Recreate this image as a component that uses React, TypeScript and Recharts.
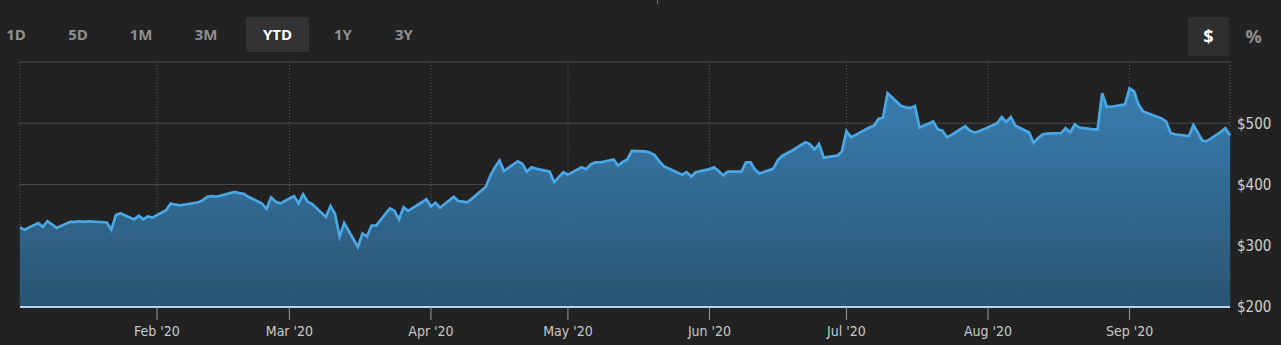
import React from 'react';
import { AreaChart, Area, XAxis, YAxis, CartesianGrid } from 'recharts';

const dates = [
  '2020-01-02','2020-01-03','2020-01-06','2020-01-07','2020-01-08','2020-01-09','2020-01-10','2020-01-13','2020-01-14','2020-01-15','2020-01-16','2020-01-17','2020-01-21','2020-01-22','2020-01-23','2020-01-24','2020-01-27','2020-01-28','2020-01-29','2020-01-30','2020-01-31',
  '2020-02-03','2020-02-04','2020-02-05','2020-02-06','2020-02-07','2020-02-10','2020-02-11','2020-02-12','2020-02-13','2020-02-14','2020-02-18','2020-02-19','2020-02-20','2020-02-21','2020-02-24','2020-02-25','2020-02-26','2020-02-27','2020-02-28',
  '2020-03-02','2020-03-03','2020-03-04','2020-03-05','2020-03-06','2020-03-09','2020-03-10','2020-03-11','2020-03-12','2020-03-13','2020-03-16','2020-03-17','2020-03-18','2020-03-19','2020-03-20','2020-03-23','2020-03-24','2020-03-25','2020-03-26','2020-03-27','2020-03-30','2020-03-31',
  '2020-04-01','2020-04-02','2020-04-03','2020-04-06','2020-04-07','2020-04-08','2020-04-09','2020-04-13','2020-04-14','2020-04-15','2020-04-16','2020-04-17','2020-04-20','2020-04-21','2020-04-22','2020-04-23','2020-04-24','2020-04-27','2020-04-28','2020-04-29','2020-04-30',
  '2020-05-01','2020-05-04','2020-05-05','2020-05-06','2020-05-07','2020-05-08','2020-05-11','2020-05-12','2020-05-13','2020-05-14','2020-05-15','2020-05-18','2020-05-19','2020-05-20','2020-05-21','2020-05-22','2020-05-26','2020-05-27','2020-05-28','2020-05-29',
  '2020-06-01','2020-06-02','2020-06-03','2020-06-04','2020-06-05','2020-06-08','2020-06-09','2020-06-10','2020-06-11','2020-06-12','2020-06-15','2020-06-16','2020-06-17','2020-06-18','2020-06-19','2020-06-22','2020-06-23','2020-06-24','2020-06-25','2020-06-26','2020-06-29','2020-06-30',
  '2020-07-01','2020-07-02','2020-07-06','2020-07-07','2020-07-08','2020-07-09','2020-07-10','2020-07-13','2020-07-14','2020-07-15','2020-07-16','2020-07-17','2020-07-20','2020-07-21','2020-07-22','2020-07-23','2020-07-24','2020-07-27','2020-07-28','2020-07-29','2020-07-30','2020-07-31',
  '2020-08-03','2020-08-04','2020-08-05','2020-08-06','2020-08-07','2020-08-10','2020-08-11','2020-08-12','2020-08-13','2020-08-14','2020-08-17','2020-08-18','2020-08-19','2020-08-20','2020-08-21','2020-08-24','2020-08-25','2020-08-26','2020-08-27','2020-08-28','2020-08-31',
  '2020-09-01','2020-09-02','2020-09-03','2020-09-04','2020-09-08','2020-09-09','2020-09-10','2020-09-11','2020-09-14','2020-09-15','2020-09-16','2020-09-17','2020-09-18','2020-09-21','2020-09-22','2020-09-23',
];

const prices = [
  330, 326, 337, 331, 340, 335, 329, 339, 339, 340, 339, 340, 338, 326, 350, 353, 343, 349, 343, 348, 346,
  358, 369, 367, 366, 367, 371, 374, 380, 381, 380, 388, 386, 385, 380, 369, 360, 379, 372, 369,
  381, 369, 384, 372, 368, 347, 365, 352, 315, 337, 298, 320, 315, 333, 333, 361, 357, 343, 363, 357, 371, 376,
  364, 370, 362, 380, 373, 372, 371, 396, 414, 428, 439, 422, 438, 434, 421, 428, 426, 421, 404, 412, 420,
  416, 428, 425, 433, 436, 436, 441, 431, 437, 441, 455, 454, 452, 448, 438, 430, 416, 420, 413, 420,
  425, 428, 422, 415, 421, 421, 436, 436, 424, 418, 426, 440, 447, 451, 455, 469, 466, 457, 466, 444, 447, 454,
  487, 477, 493, 496, 507, 509, 549, 528, 526, 525, 528, 493, 503, 490, 488, 477, 481, 495, 488, 485, 487, 490,
  500, 510, 502, 510, 496, 485, 468, 476, 482, 483, 484, 492, 485, 498, 493, 490, 490, 549, 527, 527, 531,
  557, 552, 530, 519, 508, 503, 484, 482, 479, 497, 484, 471, 471, 486, 492, 480,
];

const monthTickDates = ['2020-02-01','2020-03-01','2020-04-01','2020-05-01','2020-06-01','2020-07-01','2020-08-01','2020-09-01'];
const monthTickLabels = ["Feb '20","Mar '20","Apr '20","May '20","Jun '20","Jul '20","Aug '20","Sep '20"];
const priceTicks = [200, 300, 400, 500, 600];
const hiddenPriceTick = 600;

const rangeButtons = ['1D', '5D', '1M', '3M', 'YTD', '1Y', '3Y'];
const rangeCenters = [16, 78, 141, 206, 277, 343, 404];
const selectedRange = 'YTD';
const unitButtons = ['$', '%'];
const selectedUnit = '$';

const data = dates.map((d, i) => ({ t: Date.parse(d), price: prices[i] }));
const monthTicks = monthTickDates.map((d) => Date.parse(d));

const AXIS_FONT = "'DejaVu Sans Condensed', 'Liberation Sans Narrow', 'DejaVu Sans', sans-serif";
const BTN_FONT = "'Open Sans', 'Noto Sans', sans-serif";

export default function App() {
  return (
    <div
      style={{
        position: 'absolute',
        left: 0,
        top: 0,
        width: 1281,
        height: 345,
        background: '#222222',
        overflow: 'hidden',
      }}
    >
      <div style={{ position: 'absolute', left: 657, top: 0, width: 1, height: 4, background: '#777' }} />
      {rangeButtons.map((b, i) => {
        const sel = b === selectedRange;
        return (
          <div
            key={b}
            style={{
              position: 'absolute',
              left: sel ? 246 : rangeCenters[i] - 30,
              top: 17,
              width: sel ? 63 : 60,
              height: 35,
              lineHeight: '35px',
              textAlign: 'center',
              background: sel ? '#333333' : 'transparent',
              borderRadius: 2,
              color: sel ? '#ffffff' : '#8e8e8e',
              fontFamily: BTN_FONT,
              fontWeight: 700,
              fontSize: 15,
            }}
          >
            {b}
          </div>
        );
      })}
      {unitButtons.map((u, i) => {
        const sel = u === selectedUnit;
        return (
          <div
            key={u}
            style={{
              position: 'absolute',
              left: i === 0 ? 1188 : 1233,
              top: 17,
              width: 41,
              height: 39,
              lineHeight: '39px',
              textAlign: 'center',
              background: sel ? '#2f2f2f' : 'transparent',
              color: sel ? '#ffffff' : '#8e8e8e',
              fontFamily: BTN_FONT,
              fontWeight: 700,
              fontSize: 18,
            }}
          >
            {u}
          </div>
        );
      })}
      <div style={{ position: 'absolute', left: 0, top: 0 }}>
        <AreaChart
          width={1281}
          height={345}
          data={data}
          margin={{ top: 62, right: 0, left: 20, bottom: 0 }}
        >
          <defs>
            <linearGradient id="areaGrad" x1="0" y1="0" x2="0" y2="1">
              <stop offset="0%" stopColor="#3a85bb" stopOpacity={0.93} />
              <stop offset="100%" stopColor="#2a5877" stopOpacity={0.93} />
            </linearGradient>
          </defs>
          <CartesianGrid vertical={false} stroke="#4a4a4a" strokeWidth={1} />
          <CartesianGrid horizontal={false} stroke="#5c5c5c" strokeDasharray="1 2" strokeWidth={1} />
          <XAxis
            dataKey="t"
            type="number"
            domain={[data[0].t, data[data.length - 1].t]}
            ticks={monthTicks}
            interval={0}
            height={38}
            tickSize={13}
            tickMargin={6}
            axisLine={{ stroke: '#b3d6ee', strokeWidth: 2 }}
            tickLine={{ stroke: '#9a9a9a' }}
            tick={{ fill: '#c9c9c9', fontSize: 14, fontFamily: AXIS_FONT }}
            tickFormatter={(v: number) => {
              const idx = monthTicks.indexOf(v);
              return idx >= 0 ? monthTickLabels[idx] : '';
            }}
          />
          <YAxis
            orientation="right"
            type="number"
            domain={[200, 600]}
            ticks={priceTicks}
            interval={0}
            width={51}
            axisLine={false}
            tickLine={false}
            tickSize={5}
            tickMargin={2}
            tick={{ fill: '#cfcfcf', fontSize: 15, fontFamily: AXIS_FONT }}
            tickFormatter={(v: number) => (v === hiddenPriceTick ? '' : `$${v}`)}
          />
          <Area
            type="linear"
            dataKey="price"
            stroke="#4aa8e6"
            strokeWidth={2.7}
            fill="url(#areaGrad)"
            fillOpacity={1}
            dot={false}
            activeDot={false}
            isAnimationActive={false}
          />
        </AreaChart>
      </div>
    </div>
  );
}
